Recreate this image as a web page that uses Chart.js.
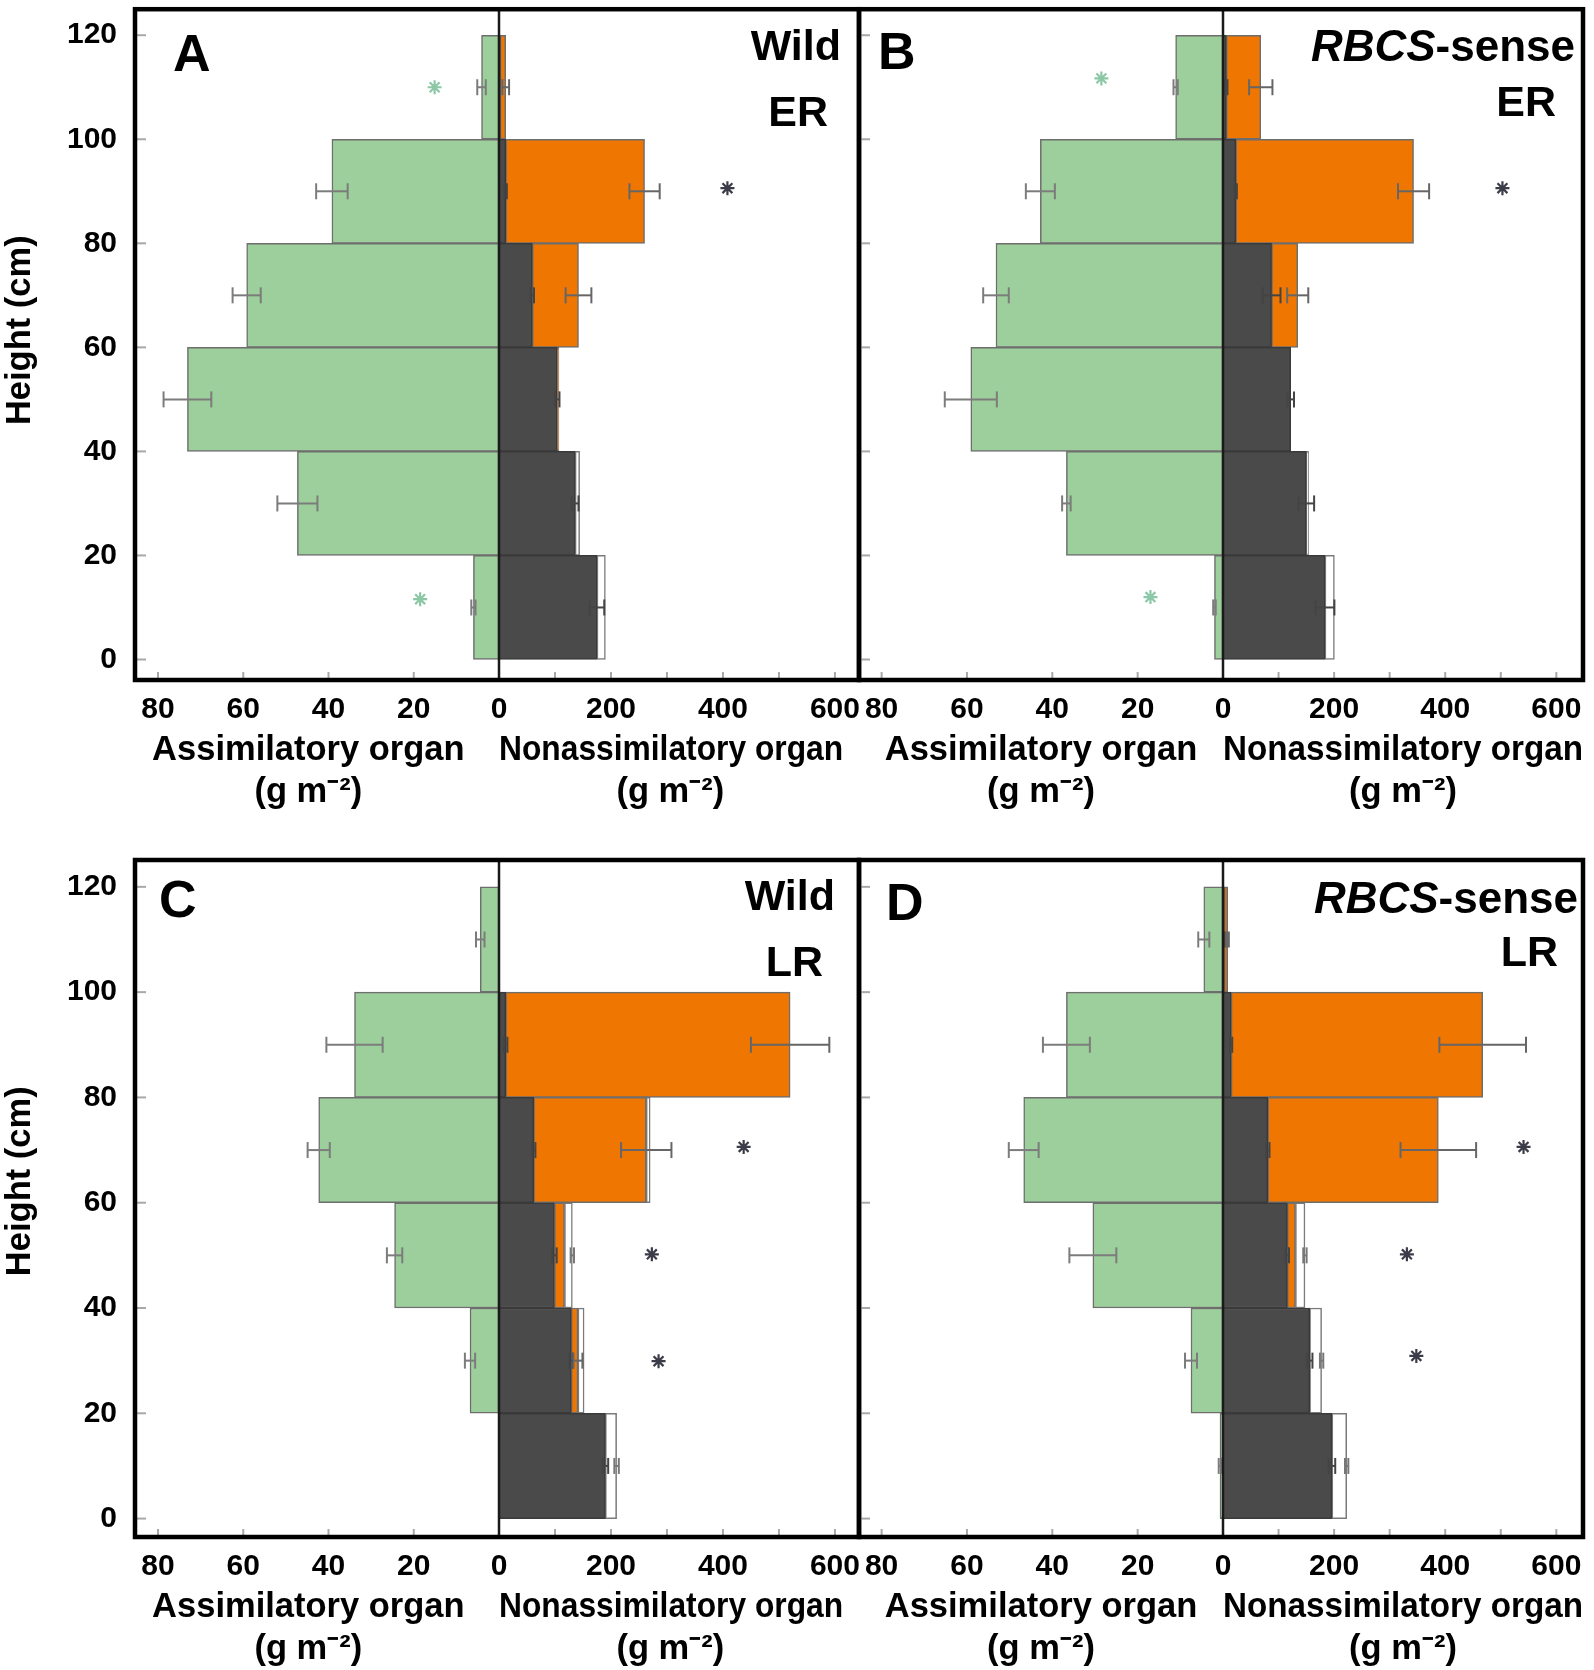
<!DOCTYPE html>
<html><head><meta charset="utf-8">
<script src="https://cdn.jsdelivr.net/npm/chart.js@4.4.1/dist/chart.umd.min.js"></script>
<style>
html,body{margin:0;padding:0;background:#fff;}
body{width:1594px;height:1670px;position:relative;overflow:hidden;font-family:"Liberation Sans",Arial,sans-serif;color:#000;}
canvas{position:absolute;}
.t{position:absolute;line-height:1;white-space:nowrap;font-weight:bold;z-index:5;font-family:"Liberation Sans",Arial,sans-serif;}
</style></head><body>
<canvas id="cA" width="880" height="830" style="left:0;top:0"></canvas>
<canvas id="cB" width="764" height="830" style="left:830px;top:0"></canvas>
<canvas id="cC" width="880" height="830" style="left:0;top:840px"></canvas>
<canvas id="cD" width="764" height="830" style="left:830px;top:840px"></canvas>

<div class="t" style="left:173px;top:27px;font-size:52px">A</div>
<div class="t" style="right:753px;top:24px;font-size:43px">Wild</div>
<div class="t" style="right:766px;top:90px;font-size:43px">ER</div>
<div class="t" style="left:878px;top:25px;font-size:52px">B</div>
<div class="t" style="right:19px;top:23.5px;font-size:44px"><i>RBCS</i>-sense</div>
<div class="t" style="right:38px;top:80px;font-size:43px">ER</div>
<div class="t" style="left:159px;top:873px;font-size:52px">C</div>
<div class="t" style="right:759px;top:873.6px;font-size:43px">Wild</div>
<div class="t" style="right:771px;top:940px;font-size:43px">LR</div>
<div class="t" style="left:886px;top:875.6px;font-size:52px">D</div>
<div class="t" style="right:16px;top:875.5px;font-size:44px"><i>RBCS</i>-sense</div>
<div class="t" style="right:36px;top:930px;font-size:43px">LR</div>

<script>
// ---------- shared categories / ticks ----------
const bandMid = [10, 30, 50, 70, 90, 110];          // height class centres (cm): 0-20 ... 100-120
const yTickVals = [0, 20, 40, 60, 80, 100, 120];
const leftTickVals = [80, 60, 40, 20];
const rightTickVals = [0, 200, 400, 600];
const rightMinorVals = [100, 200, 300, 400, 500, 600];

// ---------- Panel A : Wild ER ----------
const A_green    = [6.0, 47.3, 73.1, 59.2, 39.2, 4.1];
const A_greenSE  = [0.5, 4.7, 5.6, 3.3, 3.7, 1.0];
const A_dark     = [175, 136, 104, 59.5, 12, 2];
const A_darkSE   = [13, 6, 4, 3, 2, 0];
const A_orange   = [0, 0, 3, 82.5, 248, 10];
const A_orangeSE = [0, 0, 0, 23, 27, 6];
const A_white    = [15, 8, 0, 0, 0, 0];
const A_whiteSE  = [0, 0, 0, 0, 0, 0];
const A_astL = [[110, 15.1], [11.6, 18.5]];
const A_astR = [[90.6, 408]];

// ---------- Panel B : RBCS-sense ER ----------
const B_green    = [2.0, 36.7, 59.1, 53.2, 42.8, 11.1];
const B_greenSE  = [0.3, 1.0, 6.1, 3.0, 3.4, 0.5];
const B_dark     = [183.5, 150, 121.8, 87.5, 23, 6];
const B_darkSE   = [17, 14, 6, 16, 2, 2];
const B_orange   = [0, 0, 0, 47, 320, 62];
const B_orangeSE = [0, 0, 0, 19, 28, 21];
const B_white    = [17, 4, 0, 0, 0, 0];
const B_whiteSE  = [0, 0, 0, 0, 0, 0];
const B_astL = [[111.7, 28.5], [12, 17]];
const B_astR = [[90.6, 503]];

// ---------- Panel C : Wild LR ----------
const C_green    = [0, 6.8, 24.5, 42.3, 33.9, 4.4];
const C_greenSE  = [0, 1.2, 1.8, 2.6, 6.6, 1.0];
const C_dark     = [190, 129, 99, 62, 12, 0];
const C_darkSE   = [5, 3, 4, 3, 3, 0];
const C_orange   = [0, 12, 18, 201, 508, 0];
const C_orangeSE = [0, 8, 0, 45, 70, 0];
const C_white    = [20, 11, 14, 7, 0, 0];
const C_whiteSE  = [4, 0, 3, 0, 0, 0];
const C_astL = [];
const C_astR = [[70.6, 437], [50.2, 273], [29.9, 285]];

// ---------- Panel D : RBCS-sense LR ----------
const D_green    = [0.7, 7.5, 30.5, 46.7, 36.7, 4.5];
const D_greenSE  = [0.3, 1.4, 5.5, 3.5, 5.5, 1.3];
const D_dark     = [196, 156, 115.8, 80.6, 14.6, 2];
const D_darkSE   = [6, 5, 3, 3, 2, 1];
const D_orange   = [0, 0, 14.6, 307, 452.8, 6.5];
const D_orangeSE = [0, 0, 0, 68, 78, 2];
const D_white    = [26.6, 21.5, 17.1, 0, 0, 0];
const D_whiteSE  = [3, 3, 3, 0, 0, 0];
const D_astL = [];
const D_astR = [[70.6, 541], [50.2, 331], [30.9, 348]];

// ---------- styling ----------
const FAM = "'Liberation Sans', Arial, sans-serif";
const GREEN = '#9ccf9b', DARK = '#4a4a4a', ORANGE = '#ef7600';
const AST_GREEN = '#8cc8a6', AST_DARK = '#3c3c48';

const panelData = {};

const deco = {
  id: 'deco',
  afterDatasetsDraw(chart) {
    const d = panelData[chart.canvas.id];
    if (!d) return;
    const {ctx, chartArea: a} = chart;
    const xL = chart.scales.xL, xR = chart.scales.xR, y = chart.scales.y;
    ctx.save();
    const line = (x1, y1, x2, y2) => { ctx.beginPath(); ctx.moveTo(x1, y1); ctx.lineTo(x2, y2); ctx.stroke(); };
    // error bars
    const errs = (sc, ends, ses, col) => {
      ctx.strokeStyle = col; ctx.lineWidth = 2;
      ends.forEach((e, i) => {
        const s = ses[i]; if (!s) return;
        const py = y.getPixelForValue(bandMid[i]);
        const p1 = sc.getPixelForValue(e - s), p2 = sc.getPixelForValue(e + s);
        line(p1, py, p2, py);
        line(p1, py - 8, p1, py + 8);
        line(p2, py - 8, p2, py + 8);
      });
    };
    errs(xL, d.green, d.greenSE, '#7c7c7c');
    const e1 = d.dark;
    const e2 = d.dark.map((v, i) => v + d.orange[i]);
    const e3 = e2.map((v, i) => v + d.white[i]);
    errs(xR, e1, d.darkSE, '#444');
    errs(xR, e2, d.orangeSE, '#666');
    errs(xR, e3, d.whiteSE, '#777');
    // inward tick marks
    ctx.strokeStyle = '#a8a8a8'; ctx.lineWidth = 2;
    yTickVals.forEach(v => { const p = y.getPixelForValue(v); line(a.left, p, a.left + 11, p); });
    leftTickVals.forEach(v => { const p = xL.getPixelForValue(v); line(p, a.bottom, p, a.bottom - 8); });
    rightMinorVals.forEach(v => { const p = xR.getPixelForValue(v); line(p, a.bottom, p, a.bottom - 8); });
    // zero line
    ctx.strokeStyle = '#1a1a1a'; ctx.lineWidth = 2.5;
    const z = xR.getPixelForValue(0);
    line(z, a.top, z, a.bottom);
    // frame
    ctx.strokeStyle = '#000'; ctx.lineWidth = 4.5; ctx.lineJoin = 'miter';
    ctx.strokeRect(a.left, a.top, a.right - a.left, a.bottom - a.top);
    ctx.restore();
  }
};

function bars(arr) { return bandMid.map((h, i) => ({y: h, x: arr[i] > 0 ? arr[i] : null})); }
function pts(arr) { return arr.map(p => ({y: p[0], x: p[1]})); }

function makePanel(id, d, o) {
  panelData[id] = d;
  const tickFont = {family: FAM, size: 30, weight: 'bold'};
  const titleFont = {family: FAM, size: 34.5, weight: 'bold', lineHeight: '42px'};
  const barBase = {type: 'bar', yAxisID: 'y', stack: 'S', borderWidth: 1.5, borderSkipped: false,
                   barPercentage: 1, categoryPercentage: 1};
  new Chart(document.getElementById(id), {
    type: 'bar',
    data: {
      datasets: [
        Object.assign({}, barBase, {label: 'Assimilatory organ', data: bars(d.green), xAxisID: 'xL',
          backgroundColor: GREEN, borderColor: '#6e6e6e'}),
        Object.assign({}, barBase, {label: 'Stem', data: bars(d.dark), xAxisID: 'xR',
          backgroundColor: DARK, borderColor: '#3a3a3a'}),
        Object.assign({}, barBase, {label: 'Panicle', data: bars(d.orange), xAxisID: 'xR',
          backgroundColor: ORANGE, borderColor: '#6e6e6e'}),
        Object.assign({}, barBase, {label: 'Other', data: bars(d.white), xAxisID: 'xR',
          backgroundColor: '#ffffff', borderColor: '#7a7a7a'}),
        {type: 'scatter', label: 'sigL', data: pts(d.astL), xAxisID: 'xL', yAxisID: 'y', stack: 'astL',
          pointStyle: 'star', pointRadius: 7, borderWidth: 2.2, borderColor: AST_GREEN, backgroundColor: AST_GREEN, order: -1},
        {type: 'scatter', label: 'sigR', data: pts(d.astR), xAxisID: 'xR', yAxisID: 'y', stack: 'astR',
          pointStyle: 'star', pointRadius: 7, borderWidth: 2.2, borderColor: AST_DARK, backgroundColor: AST_DARK, order: -1}
      ]
    },
    options: {
      indexAxis: 'y',
      responsive: false,
      animation: false,
      devicePixelRatio: 1,
      events: [],
      layout: {padding: o.padding},
      plugins: {legend: {display: false}, tooltip: {enabled: false}},
      scales: {
        y: {
          type: 'linear', position: 'left', min: o.yMin, max: o.yMax, offset: false, stacked: true,
          display: o.showY,
          grid: {display: false, drawTicks: false, offset: false},
          border: {display: false},
          afterBuildTicks: s => { s.ticks = yTickVals.map(v => ({value: v})); },
          afterFit: s => { s.width = o.showY ? 135 : 0; s.paddingTop = 0; s.paddingBottom = 0; },
          ticks: {padding: 18, font: tickFont, color: '#000', autoSkip: false},
          title: {display: o.showY, text: o.yTitle, color: '#000',
                  font: {family: FAM, size: 34.5, weight: 'bold', lineHeight: '35px'}, padding: {top: 3, bottom: 0}}
        },
        xL: {
          type: 'linear', position: 'bottom', stack: 'xs', stackWeight: 364, weight: 0,
          reverse: true, min: 0, max: o.xLmax, stacked: true,
          grid: {display: false, drawTicks: false}, border: {display: false},
          afterBuildTicks: s => { s.ticks = leftTickVals.map(v => ({value: v})); },
          afterFit: s => { s.height = 133; s.paddingLeft = 0; s.paddingRight = 0; },
          ticks: {padding: 12, font: tickFont, color: '#000', autoSkip: false, maxRotation: 0, minRotation: 0},
          title: {display: true, text: o.leftTitle, color: '#000', font: titleFont, padding: {top: 0, bottom: 0}}
        },
        xR: {
          type: 'linear', position: 'bottom', stack: 'xs', stackWeight: 360, weight: 1,
          min: 0, max: o.xRmax, stacked: true,
          grid: {display: false, drawTicks: false}, border: {display: false},
          afterBuildTicks: s => { s.ticks = rightTickVals.map(v => ({value: v})); },
          afterFit: s => { s.height = 133; s.paddingLeft = 0; s.paddingRight = 0; },
          ticks: {padding: 12, font: tickFont, color: '#000', autoSkip: false, maxRotation: 0, minRotation: 0},
          title: {display: true, text: o.rightTitle, color: '#000', font: titleFont, padding: {top: 0, bottom: 0}}
        }
      }
    },
    plugins: [deco]
  });
}

const leftTitleShift = ['Assimilatory organ\u2002', '(g m\u207B\u00B2)\u2002'];
const rightTitleShift = ['Nonassimilatory organ\u2002', '(g m\u207B\u00B2)\u2002'];
const leftTitle = ['Assimilatory organ', '(g m\u207B\u00B2)'];
const rightTitle = ['Nonassimilatory organ', '(g m\u207B\u00B2)'];

makePanel('cA', {green: A_green, greenSE: A_greenSE, dark: A_dark, darkSE: A_darkSE, orange: A_orange,
  orangeSE: A_orangeSE, white: A_white, whiteSE: A_whiteSE, astL: A_astL, astR: A_astR},
  {padding: {left: 0, top: 3, right: 21, bottom: 17}, yMin: -3.94, yMax: 125.0, showY: true,
   yTitle: '   Height (cm)', xLmax: 85.4, xRmax: 643, leftTitle: leftTitleShift, rightTitle: rightTitleShift});

makePanel('cB', {green: B_green, greenSE: B_greenSE, dark: B_dark, darkSE: B_darkSE, orange: B_orange,
  orangeSE: B_orangeSE, white: B_white, whiteSE: B_whiteSE, astL: B_astL, astR: B_astR},
  {padding: {left: 29, top: 3, right: 11, bottom: 17}, yMin: -3.94, yMax: 125.0, showY: false,
   yTitle: '', xLmax: 85.3, xRmax: 648, leftTitle: leftTitle, rightTitle: rightTitle});

makePanel('cC', {green: C_green, greenSE: C_greenSE, dark: C_dark, darkSE: C_darkSE, orange: C_orange,
  orangeSE: C_orangeSE, white: C_white, whiteSE: C_whiteSE, astL: C_astL, astR: C_astR},
  {padding: {left: 0, top: 20, right: 21, bottom: 0}, yMin: -3.5, yMax: 125.1, showY: true,
   yTitle: '\u2002\u2002Height (cm)', xLmax: 85.4, xRmax: 643, leftTitle: leftTitleShift, rightTitle: rightTitleShift});

makePanel('cD', {green: D_green, greenSE: D_greenSE, dark: D_dark, darkSE: D_darkSE, orange: D_orange,
  orangeSE: D_orangeSE, white: D_white, whiteSE: D_whiteSE, astL: D_astL, astR: D_astR},
  {padding: {left: 29, top: 20, right: 11, bottom: 0}, yMin: -3.5, yMax: 125.1, showY: false,
   yTitle: '', xLmax: 85.3, xRmax: 648, leftTitle: leftTitle, rightTitle: rightTitle});
</script>
</body></html>
